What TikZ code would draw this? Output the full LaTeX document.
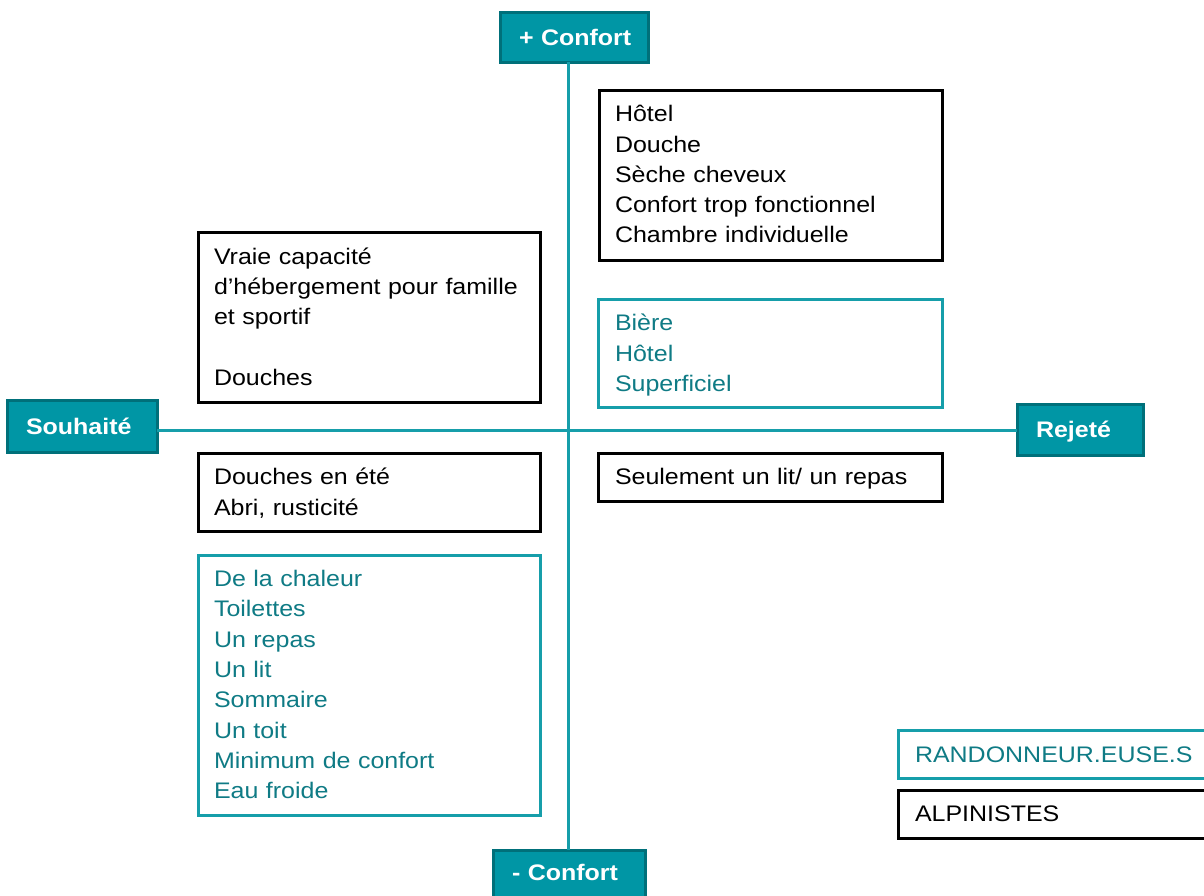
\documentclass[tikz,border=0pt]{standalone}
\usepackage{fontspec}
\setmainfont{Liberation Sans}[FakeStretch=1.11]
\definecolor{tealfill}{HTML}{0096A5}
\definecolor{tealdark}{HTML}{00707A}
\definecolor{tealline}{HTML}{169EAA}
\definecolor{tealtext}{HTML}{0F7B85}
\tikzset{
  every node/.style={outer sep=0pt},
  bbox/.style={draw=black, line width=3pt, anchor=north west, inner sep=0pt, outer sep=0pt},
  tbox/.style={draw=tealline, line width=3pt, anchor=north west, inner sep=0pt, outer sep=0pt},
  txt/.style={anchor=base west, inner sep=0pt, text width=330pt, align=left,
              font=\fontsize{22.5}{30.3}\selectfont},
  ttxt/.style={txt, text=tealtext},
  lbl/.style={draw=tealdark, fill=tealfill, line width=3pt, anchor=north west,
              inner xsep=19pt, inner ysep=0pt, outer sep=0pt, text=white, align=left,
              font=\fontsize{22.5}{27}\selectfont\bfseries, text height=16pt, text depth=0pt},
  axis/.style={draw=tealline, line width=3.5pt}
}
\begin{document}
\begin{tikzpicture}[x=1pt, y=-1pt]
\clip (0,0) rectangle (1204,895);
\fill[white] (0,0) rectangle (1204,895);

% axis labels
\node[lbl, minimum width=148pt, minimum height=50pt, text width=110pt] (top) at (500,12) {\mbox{+ Confort}};
\node[lbl, minimum width=150pt, minimum height=52pt, text width=112pt] (left) at (7,400) {\mbox{Souhaité}};
\node[lbl, minimum width=126pt, minimum height=51pt, text width=88pt] (right) at (1017,404) {\mbox{Rejeté}};
\node[lbl, minimum width=152pt, minimum height=60pt, text width=114pt, text depth=16pt] (bot) at (493,850) {\mbox{- Confort}};

% axes
\coordinate (c) at (568.5,430.5);
\draw[axis] (c |- top.south) -- (c |- bot.north);
\draw[axis] (left.east |- c) -- (right.west |- c);

% boxes
\node[bbox, minimum width=343pt, minimum height=170pt] (b1) at (599,90) {};
\node[txt] (t1) at ([shift={(16,31.7)}]b1.north west)
  {Hôtel\\Douche\\Sèche cheveux\\Confort trop fonctionnel\\Chambre individuelle};

\node[tbox, minimum width=344pt, minimum height=108pt] (b2) at (598,299) {};
\node[ttxt] (t2) at ([shift={(17,31.7)}]b2.north west)
  {Bière\\Hôtel\\Superficiel};

\node[bbox, minimum width=342pt, minimum height=170pt] (b3) at (198,232) {};
\node[txt] (t3) at ([shift={(16,32)}]b3.north west)
  {Vraie capacité\\d’hébergement pour famille\\et sportif\\[30.3pt]Douches};

\node[bbox, minimum width=342pt, minimum height=78pt] (b4) at (198,453) {};
\node[txt] (t4) at ([shift={(16,31.7)}]b4.north west)
  {Douches en été\\Abri, rusticité};

\node[bbox, minimum width=344pt, minimum height=48pt] (b5) at (598,453) {};
\node[txt] (t5) at ([shift={(17,31.2)}]b5.north west)
  {Seulement un lit/ un repas};

\node[tbox, minimum width=342pt, minimum height=260pt] (b6) at (198,555) {};
\node[ttxt] (t6) at ([shift={(16,31.6)}]b6.north west)
  {De la chaleur\\Toilettes\\Un repas\\Un lit\\Sommaire\\Un toit\\Minimum de confort\\Eau froide};

% legend
\node[tbox, minimum width=340pt, minimum height=48pt] (b7) at (898,730) {};
\node[ttxt] (t7) at ([shift={(17,32.5)}]b7.north west) {RANDONNEUR.EUSE.S};

\node[bbox, minimum width=340pt, minimum height=48pt] (b8) at (898,790) {};
\node[txt] (t8) at ([shift={(17,31.7)}]b8.north west) {ALPINISTES};
\end{tikzpicture}
\end{document}
